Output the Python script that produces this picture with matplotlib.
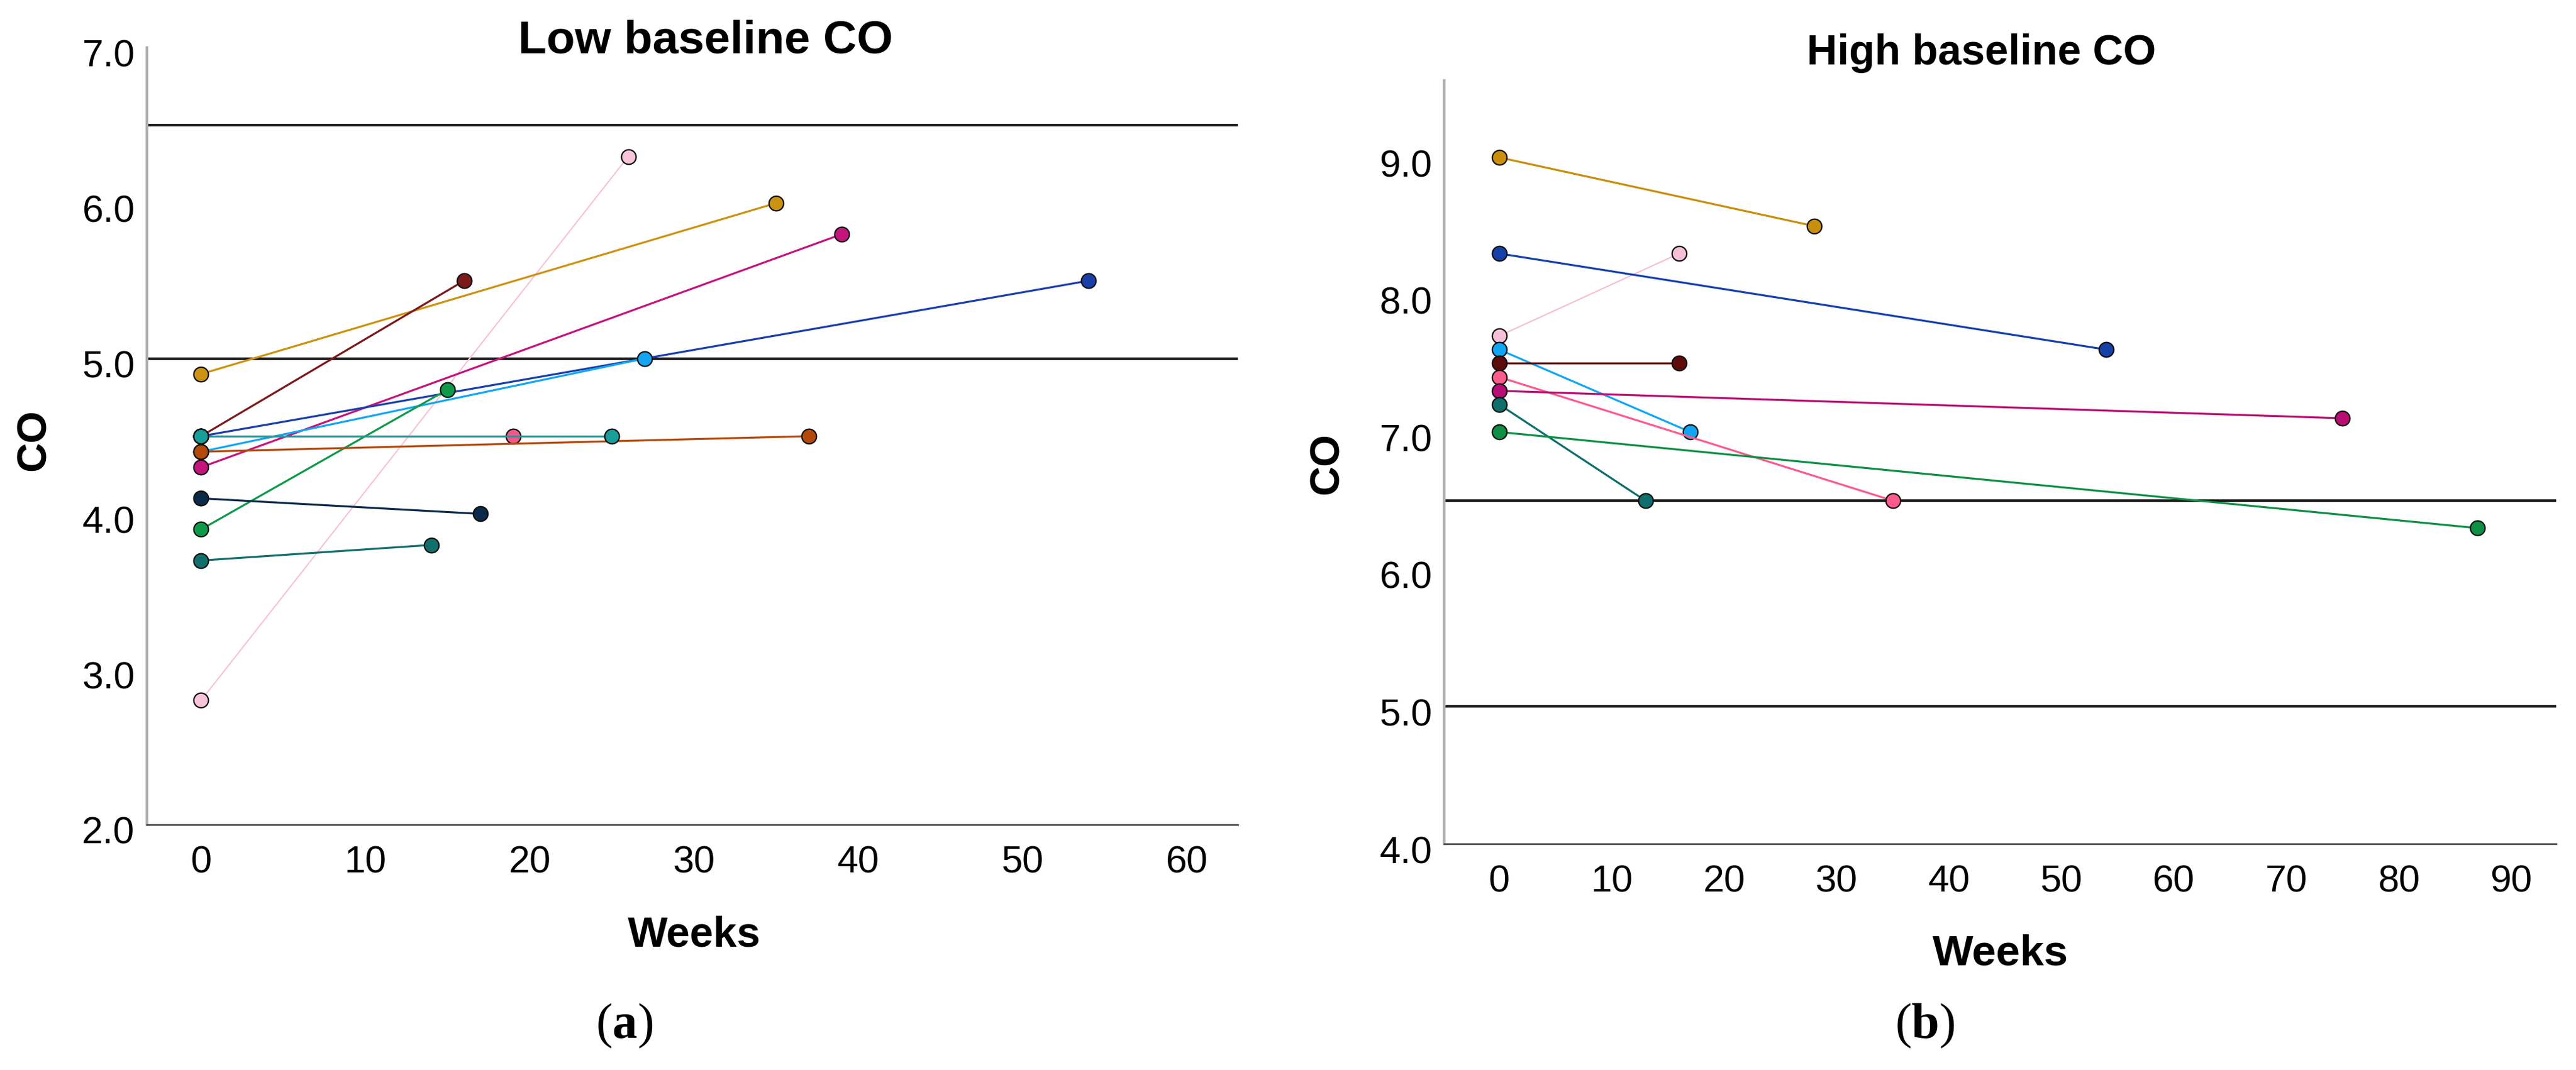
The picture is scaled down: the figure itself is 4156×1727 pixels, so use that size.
import matplotlib
matplotlib.use("Agg")
import matplotlib.pyplot as plt
import matplotlib.transforms as mtransforms

plt.rcParams['font.family'] = ['Liberation Sans', 'DejaVu Sans']
plt.rcParams['mathtext.fontset'] = 'custom'
plt.rcParams['mathtext.rm'] = 'Liberation Serif'
plt.rcParams['mathtext.bf'] = 'Liberation Serif:bold'

# Low baseline CO: every subject starts at week 0
low_co_start = [2.8, 4.9, 4.5, 4.3, 4.5, 4.4, 3.9, 4.5, 4.4, 4.1, 3.7, 4.5]
low_week_end = [26, 35, 16, 39, 54, 27, 15, 19, 37, 17, 14, 25]
low_co_end = [6.3, 6.0, 5.5, 5.8, 5.5, 5.0, 4.8, 4.5, 4.5, 4.0, 3.8, 4.5]
low_colors = ['#f7c4da', '#cc9212', '#7a1a1a', '#c4157c', '#1a3fa8', '#12a6f2',
              '#0f9a4a', '#f05a8a', '#b34a0c', '#0b2a4a', '#12706c', '#1a9e9a']

# High baseline CO
high_co_start = [7.7, 9.0, 8.3, 7.6, 7.5, 7.4, 7.3, 7.2, 7.0]
high_week_end = [16, 28, 54, 17, 16, 35, 75, 13, 87]
high_co_end = [8.3, 8.5, 7.6, 7.0, 7.5, 6.5, 7.1, 6.5, 6.3]
high_colors = ['#f6bfd8', '#c98e0c', '#1440a8', '#12a6f2', '#5e0b0b', '#fb5b8c',
               '#b80d72', '#0e6e6c', '#0d8f45']

ref_levels = [5.0, 6.5]

W, H = 4156, 1727
fig = plt.figure(figsize=(W / 100, H / 100), dpi=100)

ax1 = fig.add_axes([237 / W, 1 - 1331 / H, 1760 / W, 1254 / H])
ax2 = fig.add_axes([2330 / W, 1 - 1362 / H, 1794 / W, 1232 / H])


def draw_panel(ax, start, week_end, end, colors):
    for lvl in ref_levels:
        ax.axhline(lvl, color='#1a1a1a', lw=3.0, zorder=1)
    for s, w, e, c in zip(start, week_end, end, colors):
        thin = c in ('#f7c4da', '#f6bfd8')
        ax.plot([0, w], [s, e], color=c, lw=1.6 if thin else 2.3, zorder=2,
                marker='o', ms=17, mfc=c, mec='#111111', mew=1.6)


draw_panel(ax1, low_co_start, low_week_end, low_co_end, low_colors)
draw_panel(ax2, high_co_start, high_week_end, high_co_end, high_colors)

ax1.set_xlim(-3.3, 63.1)
ax1.set_ylim(2.0, 7.0)
ax1.set_xticks(range(0, 61, 10))
ax1.set_yticks([2, 3, 4, 5, 6, 7])

ax2.set_xlim(-4.9, 94)
ax2.set_ylim(4.0, 9.56)
ax2.set_xticks(range(0, 91, 10))
ax2.set_yticks([4, 5, 6, 7, 8, 9])

offset = mtransforms.ScaledTranslation(0, -9 / 100, fig.dpi_scale_trans)
for ax in (ax1, ax2):
    ax.spines['top'].set_visible(False)
    ax.spines['right'].set_visible(False)
    ax.spines['left'].set_color('#b0b0b0')
    ax.spines['left'].set_linewidth(3.2)
    ax.spines['bottom'].set_color('#505050')
    ax.spines['bottom'].set_linewidth(2.0)
    ax.tick_params(axis='both', length=0, labelsize=44)
    ax.tick_params(axis='x', pad=24)
    ax.tick_params(axis='y', pad=14)
    ax.set_yticklabels([f'{v:.1f}' for v in ax.get_yticks()])
    for lab in ax.get_yticklabels():
        lab.set_transform(lab.get_transform() + offset)

ax1.text(0.512, 1.009, 'Low baseline CO', transform=ax1.transAxes,
         ha='center', va='center', fontsize=54, fontweight='bold')
ax1.text(0.502, -0.142, 'Weeks', transform=ax1.transAxes,
         ha='center', va='center', fontsize=49, fontweight='bold')
ax1.text(-0.103, 0.495, 'CO', transform=ax1.transAxes, rotation=90,
         ha='center', va='center', fontsize=48, fontweight='bold')

ax2.text(0.483, 1.036, 'High baseline CO', transform=ax2.transAxes,
         ha='center', va='center', fontsize=49, fontweight='bold')
ax2.text(0.5005, -0.144, 'Weeks', transform=ax2.transAxes,
         ha='center', va='center', fontsize=50, fontweight='bold')
ax2.text(-0.105, 0.498, 'CO', transform=ax2.transAxes, rotation=90,
         ha='center', va='center', fontsize=48, fontweight='bold')

fig.text(1007 / W, 1 - 1656 / H, r'($\mathbf{a}$)', ha='center', va='center',
         fontsize=58, family='Liberation Serif')
fig.text(3105 / W, 1 - 1656 / H, r'($\mathbf{b}$)', ha='center', va='center',
         fontsize=58, family='Liberation Serif')

fig.savefig('out.png', dpi=100, facecolor='white')
